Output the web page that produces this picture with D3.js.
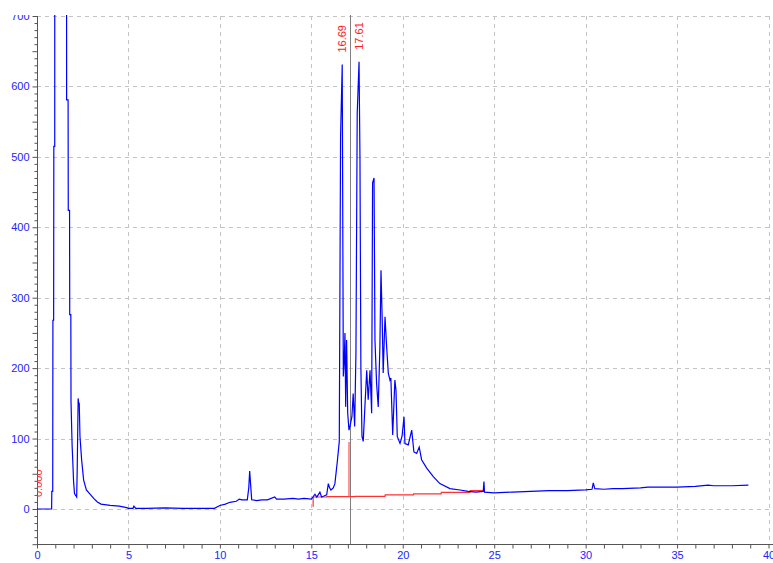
<!DOCTYPE html>
<html>
<head>
<meta charset="utf-8">
<script src="https://cdn.jsdelivr.net/npm/d3@7"></script>
<style>
  html, body { margin: 0; padding: 0; background: #fff; }
  svg { display: block; }
  .tick text { font-family: "Liberation Sans", Arial, sans-serif; font-size: 11px; fill: #2323ff; }
</style>
</head>
<body>
<svg id="chart" width="773" height="563"></svg>
<script>
// retention time (min) / signal
const times = [0, 0.8, 0.81, 0.86, 0.87, 0.91, 0.92, 0.97, 0.98, 1.3, 1.6, 1.62, 1.7, 1.71, 1.78, 1.79, 1.85, 1.86, 1.92, 1.95,
  2.0, 2.05, 2.17, 2.2, 2.25, 2.28, 2.31, 2.35, 2.44, 2.55, 2.7, 2.9, 3.1, 3.3, 3.5, 4.0, 4.5, 4.9, 5.0, 5.25,
  5.3, 5.4, 6, 7, 8, 9, 9.7, 10.0, 10.3, 10.55, 10.9, 11.06, 11.2, 11.5, 11.58, 11.63, 11.68, 11.74, 12.0, 12.3,
  12.6, 13.0, 13.1, 13.5, 14.0, 14.3, 14.6, 15.0, 15.2, 15.3, 15.47, 15.56, 15.66, 15.84, 15.93, 16.0, 16.07, 16.2, 16.29, 16.42,
  16.53, 16.6, 16.69, 16.71, 16.75, 16.8, 16.84, 16.88, 16.93, 16.99, 17.06, 17.11, 17.22, 17.29, 17.37, 17.44, 17.51, 17.61, 17.66, 17.71,
  17.77, 17.84, 17.93, 18.03, 18.11, 18.21, 18.3, 18.35, 18.43, 18.48, 18.57, 18.66, 18.75, 18.81, 18.88, 18.93, 19.03, 19.12, 19.21, 19.3,
  19.35, 19.45, 19.57, 19.63, 19.7, 19.85, 19.96, 20.07, 20.12, 20.3, 20.49, 20.61, 20.76, 20.9, 21.03, 21.31, 21.67, 22.03, 22.58, 23.13,
  23.58, 24.0, 24.4, 24.44, 24.47, 25, 26, 27, 28, 29, 30, 30.35, 30.42, 30.5, 31, 31.5, 32, 33, 33.4, 34,
  35, 36, 36.7, 37, 38, 38.9];
const signal = [0, 0, 25, 25, 268, 268, 515, 515, 1800, 2600, 1500, 581, 581, 424, 424, 276, 276, 152, 90, 72,
  39, 22, 17, 58, 157, 150, 150, 103, 70, 41, 27, 21, 15, 10, 7, 5, 4, 2, 1, 1,
  4, 1, 1, 1.5, 1, 1, 1, 5, 7, 9.5, 11, 14, 13, 13, 30, 54, 35, 13, 12, 13,
  13, 17, 14, 14, 15, 14, 15, 14, 21, 17, 24, 17, 18, 20, 36, 30, 27, 30, 36, 67,
  96, 529, 631, 486, 188, 210, 250, 145, 240, 136, 112, 117, 131, 164, 117, 221, 562, 635, 500, 202,
  103, 96, 145, 197, 155, 197, 136, 463, 470, 240, 178, 145, 230, 339, 264, 193, 273, 230, 193, 183,
  186, 105, 183, 169, 103, 93, 103, 131, 93, 91, 112, 81, 79, 88, 70, 58, 46, 36, 29, 27,
  25, 24, 25, 39, 24, 23, 24, 25, 26, 26, 27, 28, 37, 29, 28, 29, 29, 30, 31, 31,
  31, 32, 34, 33, 33, 34];

// integration baseline (red)
const baseT = [15.1, 15.84, 15.85, 17.39, 17.4, 19.03, 19.04, 20.58, 20.59, 22.1, 22.11, 23.67, 23.68, 24.4];
const baseV = [17, 17, 17.5, 17.5, 18, 18, 20, 20, 21.5, 21.5, 23.5, 23.5, 26, 26];

// labelled peaks
const peakT = [16.69, 17.61];
const peakV = [631, 635];
const peakLabels = ["16.69", "17.61"];

const cursorT = 17.11;   // gray cursor line
const dropT = 17.06;      // red split line between the two peaks
const dropV = 95;

const xTicks = d3.range(0, 41, 1);
const yTicks = d3.range(-50, 701, 10);
const xGrid = d3.range(5, 41, 5);
const yGrid = d3.range(0, 701, 100);

const W = 773, H = 563;
const margin = { left: 37, top: 16, right: 4.5, bottom: 18.8 };

const svg = d3.select("#chart");

const x = d3.scaleLinear().domain([0, 40]).range([margin.left, W - margin.right]);
const y = d3.scaleLinear().domain([-50, 700]).range([H - margin.bottom, margin.top]);

const defs = svg.append("defs");
defs.append("clipPath").attr("id", "plotclip")
  .append("rect").attr("x", margin.left).attr("y", margin.top - 1)
  .attr("width", W - margin.left).attr("height", y(-50) - margin.top + 1);
defs.append("clipPath").attr("id", "topclip")
  .append("rect").attr("x", 0).attr("y", 15).attr("width", W).attr("height", H - 15);

const root = svg.append("g").attr("clip-path", "url(#topclip)");

// grid
const grid = root.append("g").attr("shape-rendering", "crispEdges")
  .attr("stroke", "#c4c4c4").attr("stroke-dasharray", "4,4");
grid.selectAll(".hg").data(yGrid).enter().append("line")
  .attr("x1", margin.left).attr("x2", W)
  .attr("y1", d => Math.round(y(d)) + 0.5).attr("y2", d => Math.round(y(d)) + 0.5);
grid.selectAll(".vg").data(xGrid).enter().append("line")
  .attr("y1", margin.top).attr("y2", y(-50))
  .attr("x1", d => Math.round(x(d)) + 0.5).attr("x2", d => Math.round(x(d)) + 0.5);

// axes
const xAxis = d3.axisBottom(x).tickValues(xTicks).tickSize(4).tickPadding(3)
  .tickFormat(d => d % 5 === 0 ? d : "");
const gx = root.append("g").attr("transform", `translate(0, ${Math.round(y(-50)) + 0.5})`).call(xAxis);
gx.select(".domain").remove();
gx.selectAll(".tick line").attr("stroke", "#555");
gx.append("line").attr("x1", margin.left).attr("x2", W).attr("stroke", "#555");

const yAxis = d3.axisLeft(y).tickValues(yTicks).tickSize(3).tickPadding(5)
  .tickFormat(d => (d >= 0 && d % 100 === 0) ? d : "");
const gy = root.append("g").attr("transform", `translate(${margin.left + 0.5}, 0)`).call(yAxis);
gy.select(".domain").remove();
gy.selectAll(".tick line").attr("stroke", "#555").attr("x2", d => d % 50 === 0 ? -5 : -3);
gy.append("line").attr("y1", margin.top).attr("y2", y(-50)).attr("stroke", "#555");

// plot area
const plot = root.append("g").attr("clip-path", "url(#plotclip)");

// stray red label by the axis, mostly hidden behind it
plot.append("text")
  .attr("transform", `translate(${margin.left + 5}, ${y(17)}) rotate(-90)`)
  .attr("font-family", "Liberation Sans, Arial, sans-serif").attr("font-size", 11)
  .attr("fill", "#ff3030").text("0.000");

// cursor line
plot.append("line")
  .attr("x1", Math.round(x(cursorT)) + 0.5).attr("x2", Math.round(x(cursorT)) + 0.5)
  .attr("y1", 15).attr("y2", y(-50))
  .attr("stroke", "#808080").attr("stroke-width", 1);

// baseline + drop lines
const line = d3.line().x(d => x(d[0])).y(d => y(d[1]));
plot.append("path")
  .datum(d3.zip(baseT, baseV))
  .attr("d", line).attr("fill", "none").attr("stroke", "#ff3030").attr("stroke-width", 1.2);
plot.append("line")
  .attr("x1", x(baseT[0])).attr("x2", x(baseT[0]))
  .attr("y1", y(baseV[0])).attr("y2", y(3))
  .attr("stroke", "#ff3030").attr("stroke-width", 1.2);
plot.append("line")
  .attr("x1", x(dropT)).attr("x2", x(dropT))
  .attr("y1", y(17.5)).attr("y2", y(dropV))
  .attr("stroke", "#ff5050").attr("stroke-width", 1.2);

// trace
plot.append("path")
  .datum(d3.zip(times, signal))
  .attr("d", line).attr("fill", "none").attr("stroke", "#0000ff").attr("stroke-width", 1.2);

// peak labels
plot.selectAll(".plabel").data(peakT).enter().append("text")
  .attr("transform", (d, i) => `translate(${x(d) + 4}, ${y(peakV[i]) - 12}) rotate(-90)`)
  .attr("font-family", "Liberation Sans, Arial, sans-serif").attr("font-size", 11)
  .attr("fill", "#ff2020")
  .text((d, i) => peakLabels[i]);
</script>
</body>
</html>
